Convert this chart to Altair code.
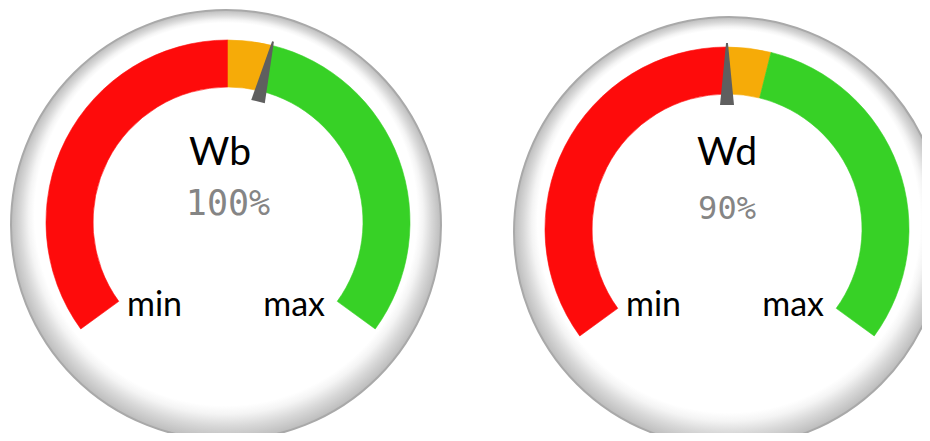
import altair as alt
import pandas as pd

# ---- data -------------------------------------------------------------
gauge_names = ["Wb", "Wd"]
gauge_value_labels = ["100%", "90%"]
needle_values = [100, 90]
scale_min = 0
scale_max = 180
band_starts = [0, 90, 100]
band_ends = [90, 100, 180]
band_colors = ["#fe0b0b", "#f6ab08", "#37d126"]
end_labels = ["min", "max"]

THETA_RANGE = [-2.1991, 2.1991]   # +-126 degrees, radians
ANGLE_RANGE = [-126, 126]

NEEDLE_PATH = "M -0.0376 -0.667 L 0.0376 -0.667 L 0.005 -1 L -0.005 -1 Z"
NEEDLE_SIZE = 372 * 372

BEZEL_FILL = {
    "gradient": "radial",
    "x1": 0.5, "y1": 0.475, "r1": 0.445,
    "x2": 0.5, "y2": 0.5, "r2": 0.5,
    "stops": [
        {"offset": 0.0, "color": "#ffffff"},
        {"offset": 0.25, "color": "#f4f4f4"},
        {"offset": 0.6, "color": "#d8d8d8"},
        {"offset": 0.9, "color": "#c3c3c3"},
        {"offset": 1.0, "color": "#bcbcbc"},
    ],
}

PANEL_W = 457
PANEL_H = 425


def gauge(i, xoff, yoff, bezel_dx, bezel_dy, title_dx, value_size, value_dy):
    bands = pd.DataFrame({"start": band_starts, "end": band_ends, "color": band_colors})
    needle = pd.DataFrame({"value": [needle_values[i]]})
    one = pd.DataFrame({"name": [gauge_names[i]], "label": [gauge_value_labels[i]],
                        "lo": [end_labels[0]], "hi": [end_labels[1]]})

    bezel = alt.Chart(one).mark_arc(
        outerRadius=215, innerRadius=0, fill=BEZEL_FILL, clip=True,
        stroke="#a9a9a9", strokeWidth=2,
        xOffset=xoff + bezel_dx, yOffset=yoff + bezel_dy,
    ).encode(theta=alt.value(0), theta2=alt.value(6.2832))

    arcs = alt.Chart(bands).mark_arc(
        outerRadius=182, innerRadius=135, strokeWidth=0.6, xOffset=xoff, yOffset=yoff,
    ).encode(
        theta=alt.Theta("start:Q", scale=alt.Scale(domain=[scale_min, scale_max], range=THETA_RANGE), stack=None),
        theta2="end:Q",
        fill=alt.Fill("color:N", scale=None),
        stroke=alt.Stroke("color:N", scale=None),
    )

    needle_mark = alt.Chart(needle).mark_point(
        shape=NEEDLE_PATH, size=NEEDLE_SIZE, filled=True, opacity=1,
        color="#5f5f5f", strokeWidth=0, xOffset=xoff, yOffset=yoff,
    ).encode(
        angle=alt.Angle("value:Q", scale=alt.Scale(domain=[scale_min, scale_max], range=ANGLE_RANGE), legend=None)
    )

    title = alt.Chart(one).mark_text(
        font="Lato", fontSize=39, color="#000000", baseline="alphabetic",
        align="center", dx=xoff + title_dx, dy=-55.5,
    ).encode(text="name:N")

    value = alt.Chart(one).mark_text(
        font="DejaVu Sans Mono", fontSize=value_size, color="#858585", baseline="alphabetic",
        align="center", dx=xoff, dy=value_dy,
    ).encode(text="label:N")

    lo = alt.Chart(one).mark_text(
        font="Lato", fontSize=34, color="#000000", baseline="alphabetic",
        align="left", dx=xoff - 101, dy=95.5,
    ).encode(text="lo:N")

    hi = alt.Chart(one).mark_text(
        font="Lato", fontSize=34, color="#000000", baseline="alphabetic",
        align="right", dx=xoff + 97, dy=95.5,
    ).encode(text="hi:N")

    return alt.layer(bezel, arcs, needle_mark, title, value, lo, hi).properties(
        width=PANEL_W, height=PANEL_H
    )


left = gauge(0, -8.5, 1.5, -2, 3, -8, 35, -5.5)
right = gauge(1, 33.5, 8.5, 2, 3, 0, 32, -2)

chart = alt.hconcat(left, right, spacing=0, bounds="flush").properties(padding=0).configure_view(stroke=None)

chart.save("out.html", embed_options={"renderer": "svg", "actions": False})
